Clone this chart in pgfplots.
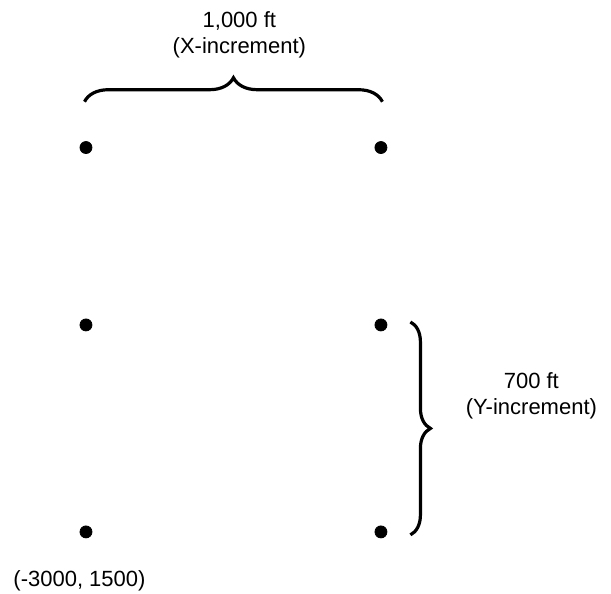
\documentclass[border=0pt]{standalone}
\usepackage{pgfplots}
\pgfplotsset{compat=1.18}
\usepackage{fontspec}
\setmainfont{Liberation Sans}
\usetikzlibrary{decorations.pathreplacing}
\begin{document}
\begin{tikzpicture}
\begin{axis}[
  name=main,
  scale only axis,
  width=305.5pt, height=297pt,
  xmin=-3291.5, xmax=-1220,
  ymin=1290, ymax=3299,
  hide axis,
  clip=false,
]
\addplot[only marks, mark=*, mark size=3pt, black] coordinates {
  (-3000,1500) (-2000,1500)
  (-3000,2200) (-2000,2200)
  (-3000,2800) (-2000,2800)
};
\draw[black, line width=1.6pt, decoration={brace, amplitude=12pt}, decorate]
  (axis cs:-3005,2955) -- (axis cs:-1995,2955);
\draw[black, line width=1.6pt, decoration={brace, amplitude=10pt}, decorate]
  (axis cs:-1900,2210) -- (axis cs:-1900,1490);
\node[font=\fontsize{11}{13}\selectfont, align=center, anchor=center]
  at (axis cs:-2480,3180) {1,000 ft\\(X-increment)};
\node[font=\fontsize{11}{13}\selectfont, align=center, anchor=center]
  at (axis cs:-1490,1960) {700 ft\\(Y-increment)};
\node[font=\fontsize{11}{13}\selectfont, anchor=center]
  at (axis cs:-3022,1335) {(-3000, 1500)};
\end{axis}
\pgfresetboundingbox
\useasboundingbox (main.south west) rectangle (main.north east);
\end{tikzpicture}
\end{document}
